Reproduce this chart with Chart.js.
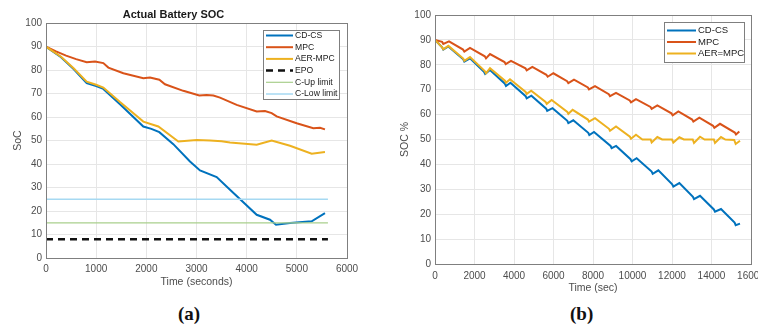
<!DOCTYPE html>
<html>
<head>
<meta charset="utf-8">
<script src="https://cdn.jsdelivr.net/npm/chart.js@4/dist/chart.umd.min.js"></script>
<style>
  html, body { margin: 0; padding: 0; background: #fff; overflow: hidden; }
  body { width: 758px; height: 328px; position: relative; }
  .box { position: absolute; top: 0; height: 300px; }
  #boxA { left: 0; width: 380px; }
  #boxB { left: 380px; width: 410px; }
  .tag { position: absolute; top: 303px; font: bold 19px 'Liberation Serif', 'DejaVu Serif', serif; color: #111; }
</style>
</head>
<body>
<div id="boxA" class="box"><canvas id="chartA" width="380" height="300"></canvas></div>
<div id="boxB" class="box"><canvas id="chartB" width="410" height="300"></canvas></div>
<div class="tag" style="left:178px">(a)</div>
<div class="tag" style="left:570px">(b)</div>
<script>
// ---- (a) Actual Battery SOC ----
const timeCdcsA = [0, 300, 550, 811, 1000, 1143, 1475, 1940, 2100, 2259, 2538, 2870, 3070, 3402, 3668, 4200, 4465, 4585, 4864, 5296, 5561];
const socCdcsA  = [90, 85.5, 80.5, 74.5, 73.2, 72.0, 65.5, 56.0, 55.0, 53.6, 48.5, 41.1, 37.3, 34.5, 29.1, 18.4, 16.3, 14.2, 14.9, 15.6, 19.1];
const timeMpcA  = [0, 200, 400, 600, 811, 977, 1143, 1243, 1542, 1940, 2073, 2259, 2372, 2737, 3056, 3200, 3336, 3469, 3801, 4200, 4365, 4498, 4598, 4997, 5329, 5462, 5561];
const socMpcA   = [90, 88, 86.2, 84.7, 83.4, 83.7, 83.0, 81.1, 78.7, 76.6, 76.9, 75.9, 74.0, 71.2, 69.2, 69.4, 69.2, 68.3, 65.2, 62.4, 62.6, 61.7, 60.3, 57.4, 55.3, 55.5, 54.8];
const timeAerA  = [0, 300, 550, 811, 1000, 1143, 1475, 1940, 2239, 2638, 3004, 3269, 3500, 3668, 4200, 4498, 4864, 5296, 5561];
const socAerA   = [90, 85.7, 80.8, 75.1, 73.8, 72.6, 66.4, 58.1, 56.0, 49.6, 50.3, 50.0, 49.7, 49.2, 48.2, 50.0, 47.8, 44.4, 45.1];
const limitTime = [0, 5620];
const epoLevel = 8, cUpLevel = 15, cLowLevel = 25;

// ---- (b) SOC % ----
const timeCdcsB = [0, 360, 420, 675, 1430, 1485, 1772, 2480, 2540, 2785, 3540, 3595, 3820, 4590, 4641, 4880, 5630, 5680, 5950,
  6700, 6751, 7000, 7760, 7814, 8050, 8890, 8945, 9170, 9900, 9958, 10210, 10970, 11023, 11309, 12010, 12068, 12372,
  13060, 13114, 13418, 14120, 14177, 14481, 15170, 15225, 15443];
const socCdcsB  = [90, 87.0, 86.1, 87.4, 82.2, 81.3, 82.6, 77.2, 76.3, 77.9, 72.4, 71.5, 72.8, 67.4, 66.5, 67.6, 62.4, 61.5, 62.6,
  57.5, 56.6, 57.7, 52.7, 51.8, 53.0, 47.4, 46.5, 47.4, 42.1, 41.2, 42.5, 37.1, 36.2, 37.6, 32.0, 31.1, 32.5,
  27.0, 26.1, 27.4, 21.9, 21.0, 22.1, 16.6, 15.6, 16.2];
const timeMpcB  = [0, 360, 420, 709, 1420, 1485, 1772, 2520, 2582, 2785, 3520, 3578, 3848, 4580, 4641, 4928, 5640, 5705, 5992,
  6690, 6751, 7038, 7740, 7797, 8101, 8800, 8861, 9165, 9860, 9924, 10177, 10910, 10970, 11257, 11970, 12034, 12321,
  13020, 13080, 13384, 14080, 14143, 14430, 15180, 15240, 15409];
const socMpcB   = [90, 89.2, 88.4, 89.4, 86.1, 85.3, 86.8, 83.4, 82.6, 84.3, 81.1, 80.3, 81.6, 78.6, 77.8, 79.2, 76.0, 75.2, 76.6,
  73.4, 72.6, 74.0, 70.9, 70.1, 71.4, 68.2, 67.4, 68.7, 65.7, 64.9, 66.2, 63.1, 62.3, 63.7, 60.5, 59.7, 61.3,
  58.0, 57.2, 58.8, 55.5, 54.7, 56.3, 52.8, 52.0, 53.2];
const timeAerB  = [0, 360, 420, 675, 1430, 1485, 1772, 2520, 2582, 2785, 3540, 3595, 3797, 4590, 4641, 4870, 5600, 5654, 5907,
  6700, 6751, 6970, 7740, 7797, 8101, 8810, 8861, 9165, 9870, 9924, 10177, 10500, 10920, 10970, 11257, 11500,
  12000, 12068, 12372, 12600, 13050, 13114, 13418, 13650, 14120, 14177, 14481, 14700, 15150, 15225, 15443];
const socAerB   = [90, 87.0, 86.2, 87.6, 82.5, 81.6, 83.1, 77.5, 76.6, 78.6, 73.6, 72.8, 74.2, 69.1, 68.3, 69.6, 65.1, 64.3, 65.9,
  61.1, 60.3, 61.9, 58.0, 57.2, 58.6, 54.3, 53.5, 55.2, 51.1, 50.3, 51.9, 50.0, 50.0, 48.8, 51.0, 50.0,
  50.0, 48.8, 50.9, 50.0, 50.0, 48.6, 51.1, 50.0, 50.0, 48.6, 51.0, 50.0, 49.8, 48.2, 49.5];

const BLUE = '#0072BD', RED = '#D95319', YELLOW = '#EDB120';

Chart.defaults.font.family = "'Liberation Sans', Arial, sans-serif";
Chart.defaults.font.size = 10;
Chart.defaults.color = '#4d4d4d';

function pts(xs, ys) {
  return xs.map((x, i) => ({ x, y: ys[i] }));
}

function line(label, xs, ys, color, width, order, dash) {
  return {
    label, data: pts(xs, ys), borderColor: color, backgroundColor: color,
    borderWidth: width, borderDash: dash || [], pointRadius: 0, tension: 0, order
  };
}

// frame round the plot area, like a MATLAB axes box
const framePlugin = {
  id: 'frame',
  afterDatasetsDraw(chart) {
    const { ctx, chartArea: a } = chart;
    ctx.save();
    ctx.strokeStyle = '#7f7f7f';
    ctx.lineWidth = 1;
    ctx.strokeRect(Math.round(a.left) + 0.5, Math.round(a.top) + 0.5,
      Math.round(a.right - a.left), Math.round(a.bottom - a.top));
    ctx.restore();
  }
};

// legend box drawn inside the plot
const boxLegend = {
  id: 'boxLegend',
  afterDraw(chart, args, opts) {
    const { ctx } = chart;
    ctx.save();
    ctx.fillStyle = '#fff';
    ctx.fillRect(opts.x, opts.y, opts.w, opts.h);
    ctx.strokeStyle = '#7f7f7f';
    ctx.lineWidth = 1;
    ctx.strokeRect(opts.x + 0.5, opts.y + 0.5, opts.w, opts.h);
    ctx.font = opts.fontSize + "px 'Liberation Sans', Arial, sans-serif";
    ctx.textBaseline = 'middle';
    chart.data.datasets.forEach((ds, i) => {
      const y = opts.y + opts.first + i * opts.rowH;
      ctx.beginPath();
      ctx.strokeStyle = ds.borderColor;
      ctx.lineWidth = ds.borderWidth;
      ctx.setLineDash(ds.borderDash || []);
      ctx.moveTo(opts.x + 3, y);
      ctx.lineTo(opts.x + opts.lineLen, y);
      ctx.stroke();
      ctx.setLineDash([]);
      ctx.fillStyle = '#1a1a1a';
      ctx.fillText(ds.label, opts.x + opts.lineLen + 2, y);
    });
    ctx.restore();
  }
};

function gridOpts() {
  return { color: '#e6e6e6', drawTicks: false };
}

const plainTick = v => String(v);

new Chart(document.getElementById('chartA'), {
  type: 'line',
  data: {
    datasets: [
      line('CD-CS', timeCdcsA, socCdcsA, BLUE, 2, 3),
      line('MPC', timeMpcA, socMpcA, RED, 2, 2),
      line('AER-MPC', timeAerA, socAerA, YELLOW, 2, 1),
      line('EPO', limitTime, [epoLevel, epoLevel], '#111', 2.5, 0, [7, 5]),
      line('C-Up limit', limitTime, [cUpLevel, cUpLevel], '#a9cf8c', 1.2, 0),
      line('C-Low limit', limitTime, [cLowLevel, cLowLevel], '#a6d9f2', 1.5, 0)
    ]
  },
  options: {
    responsive: false,
    animation: false,
    layout: { padding: { left: 0, right: 33, top: 0, bottom: 0 } },
    plugins: {
      legend: { display: false },
      tooltip: { enabled: false },
      title: {
        display: true, text: 'Actual Battery SOC', color: '#1a1a1a',
        font: { size: 11, weight: 'bold' }, padding: { top: 8, bottom: 2 }
      },
      boxLegend: { x: 263, y: 30, w: 76, h: 69, first: 5.5, rowH: 11.7, lineLen: 30, fontSize: 8.6 }
    },
    scales: {
      x: {
        type: 'linear', min: 0, max: 6000,
        ticks: { stepSize: 1000, padding: 5, maxRotation: 0, callback: plainTick },
        grid: gridOpts(), border: { display: false },
        title: { display: true, text: 'Time (seconds)', font: { size: 10.5 }, padding: { top: 0, bottom: 12 } },
        afterFit(s) { s.height = 42; }
      },
      y: {
        min: 0, max: 100,
        ticks: { stepSize: 10, padding: 4, callback: plainTick },
        grid: gridOpts(), border: { display: false },
        title: { display: true, text: 'SoC', font: { size: 10.5 }, padding: { top: 12, bottom: 0 } },
        afterFit(s) { s.width = 46; }
      }
    }
  },
  plugins: [framePlugin, boxLegend]
});

new Chart(document.getElementById('chartB'), {
  type: 'line',
  data: {
    datasets: [
      line('CD-CS', timeCdcsB, socCdcsB, BLUE, 2, 3),
      line('MPC', timeMpcB, socMpcB, RED, 2, 2),
      line('AER=MPC', timeAerB, socAerB, YELLOW, 2, 1)
    ]
  },
  options: {
    responsive: false,
    animation: false,
    layout: { padding: { left: 0, right: 39, top: 15, bottom: 0 } },
    plugins: {
      legend: { display: false },
      tooltip: { enabled: false },
      boxLegend: { x: 284, y: 22, w: 80, h: 40, first: 8.5, rowH: 11.5, lineLen: 32, fontSize: 9.5 }
    },
    scales: {
      x: {
        type: 'linear', min: 0, max: 16000,
        ticks: { stepSize: 2000, padding: 6, maxRotation: 0, callback: plainTick },
        grid: gridOpts(), border: { display: false },
        title: { display: true, text: 'Time (sec)', font: { size: 10.5 }, padding: { top: 0, bottom: 6 } },
        afterFit(s) { s.height = 36; }
      },
      y: {
        min: 0, max: 100,
        ticks: { stepSize: 10, padding: 4, callback: plainTick },
        grid: gridOpts(), border: { display: false },
        title: { display: true, text: 'SOC %', font: { size: 10.5 }, padding: { top: 19, bottom: 0 } },
        afterFit(s) { s.width = 55; }
      }
    }
  },
  plugins: [framePlugin, boxLegend]
});
</script>
</body>
</html>
